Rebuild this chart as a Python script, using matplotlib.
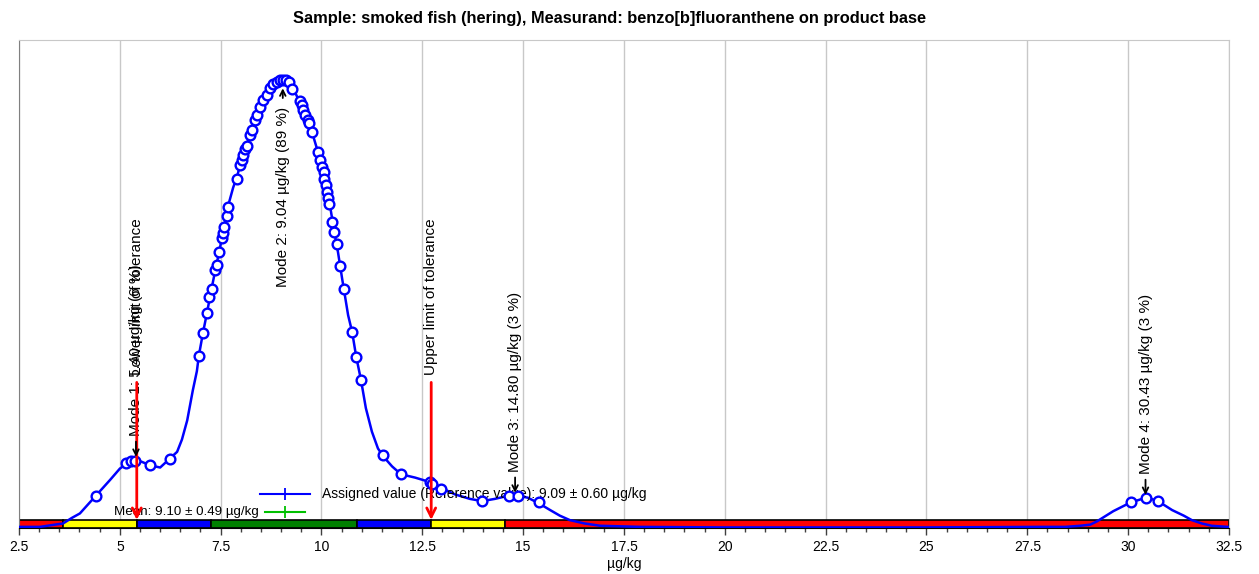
import matplotlib
matplotlib.use('Agg')
import matplotlib.pyplot as plt
from matplotlib.patches import Rectangle
from matplotlib.ticker import MultipleLocator, FormatStrFormatter
import numpy as np

plt.rcParams['font.family'] = ['Liberation Sans', 'DejaVu Sans']

# kernel density of the reported results (µg/kg vs. density)
kde_x = [2.50, 3.02, 3.39, 3.59, 3.81, 4.01, 4.21, 4.41, 4.61, 4.76, 5.00, 5.15,
         5.28, 5.38, 5.55, 5.75, 6.00, 6.24, 6.42, 6.54, 6.67, 6.81, 6.91, 6.96,
         7.06, 7.16, 7.26, 7.36, 7.46, 7.58, 7.68, 7.81, 7.91, 8.00, 8.10, 8.23,
         8.35, 8.48, 8.60, 8.72, 8.85, 8.97, 9.10, 9.22, 9.37, 9.49, 9.59, 9.72,
         9.81, 9.91, 10.01, 10.11, 10.21, 10.31, 10.41, 10.51, 10.66, 10.76, 10.86,
         10.98, 11.10, 11.25, 11.40, 11.53, 11.75, 11.97, 12.32, 12.69, 12.96, 13.31,
         13.68, 13.98, 14.30, 14.65, 14.87, 15.12, 15.39, 15.67, 15.91, 16.16, 16.53,
         16.91, 17.90, 20.00, 25.00, 27.82, 28.44, 28.81, 29.06, 29.23, 29.63, 30.07,
         30.26, 30.43, 30.57, 30.74, 31.09, 31.38, 31.58, 31.83, 32.07, 32.47]
kde_y = [0.001, 0.001, 0.003, 0.004, 0.009, 0.013, 0.021, 0.029, 0.037, 0.043, 0.053, 0.057,
         0.060, 0.061, 0.059, 0.056, 0.054, 0.062, 0.068, 0.079, 0.096, 0.123, 0.140, 0.154,
         0.174, 0.192, 0.211, 0.229, 0.246, 0.268, 0.287, 0.304, 0.314, 0.327, 0.338, 0.351,
         0.364, 0.376, 0.385, 0.393, 0.397, 0.400, 0.400, 0.396, 0.387, 0.378, 0.369, 0.360,
         0.348, 0.336, 0.321, 0.306, 0.288, 0.266, 0.246, 0.223, 0.190, 0.175, 0.153,
         0.132, 0.107, 0.086, 0.071, 0.064, 0.055, 0.048, 0.045, 0.041, 0.036, 0.030,
         0.026, 0.024, 0.026, 0.029, 0.029, 0.027, 0.022, 0.016, 0.011, 0.007, 0.004,
         0.002, 0.001, 0.0005, 0.0005, 0.001, 0.001, 0.002, 0.003, 0.006, 0.015, 0.023,
         0.025, 0.027, 0.026, 0.024, 0.016, 0.011, 0.007, 0.004, 0.002, 0.001]

# single results, drawn on the density curve
res_x = [4.41, 5.15, 5.27, 5.38, 5.75, 6.24,
         6.96, 7.07, 7.15, 7.22, 7.28, 7.36, 7.41, 7.47, 7.53, 7.57, 7.59, 7.65, 7.69,
         7.90, 7.98, 8.02, 8.06, 8.10, 8.15, 8.23, 8.27, 8.35, 8.39, 8.48, 8.55, 8.64,
         8.72, 8.80, 8.89, 8.97, 9.05, 9.12, 9.19,
         9.26, 9.47, 9.51, 9.55, 9.59, 9.67, 9.70, 9.76, 9.92, 9.96, 10.01, 10.05, 10.07,
         10.11, 10.14, 10.17, 10.19, 10.25, 10.32, 10.38, 10.46, 10.56, 10.75, 10.86, 10.97,
         11.53, 11.96, 12.69, 12.73, 12.96, 13.99, 14.66, 14.88, 15.39,
         30.07, 30.43, 30.74]
res_y = [0.029, 0.058, 0.060, 0.060, 0.056, 0.062,
         0.154, 0.174, 0.192, 0.206, 0.213, 0.230, 0.235, 0.246, 0.259, 0.263, 0.269, 0.279, 0.287,
         0.312, 0.324, 0.329, 0.333, 0.338, 0.341, 0.351, 0.355, 0.364, 0.369, 0.376, 0.382, 0.387,
         0.393, 0.396, 0.398, 0.400, 0.400, 0.400, 0.398,
         0.392, 0.381, 0.378, 0.373, 0.369, 0.364, 0.362, 0.354, 0.336, 0.329, 0.322, 0.318, 0.312,
         0.306, 0.300, 0.295, 0.289, 0.273, 0.264, 0.254, 0.234, 0.213, 0.175, 0.153, 0.132,
         0.065, 0.048, 0.041, 0.039, 0.035, 0.024, 0.029, 0.029, 0.023,
         0.023, 0.027, 0.024]

# modes of the density
mode_x = [5.40, 9.04, 14.80, 30.43]
mode_y = [0.061, 0.400, 0.029, 0.027]
mode_pct = [6, 89, 3, 3]

# evaluation zones along the axis
zone_edges = [2.5, 3.60, 5.42, 7.25, 10.89, 12.72, 14.54, 32.5]
zone_colors = ['#ff0000', '#ffff00', '#0000ff', '#008000', '#0000ff', '#ffff00', '#ff0000']
tol_lower = 5.42
tol_upper = 12.72

assigned_val, assigned_unc = 9.09, 0.60
mean_val, mean_unc = 9.10, 0.49

fig = plt.figure(figsize=(12.59, 5.74), dpi=100)
ax = fig.add_axes([0.01509, 0.08014, 0.96108, 0.85017])

ax.set_xlim(2.5, 32.5)
ax.set_ylim(0, 0.4357)

ax.xaxis.set_major_locator(MultipleLocator(2.5))
ax.xaxis.set_minor_locator(MultipleLocator(0.5))
ax.xaxis.set_major_formatter(FormatStrFormatter('%g'))
ax.set_yticks([])
ax.tick_params(axis='x', which='major', length=5, width=1, color='#404040', labelsize=10, pad=4)
ax.tick_params(axis='x', which='minor', length=3, width=1, color='#404040')
ax.grid(axis='x', which='major', color='#c8c8c8', lw=1)
ax.set_axisbelow(True)

ax.spines['left'].set_color('#808080')
ax.spines['top'].set_color('#c8c8c8')
ax.spines['right'].set_color('#c8c8c8')
ax.spines['bottom'].set_color('black')

# zone band
for x0, x1, c in zip(zone_edges[:-1], zone_edges[1:], zone_colors):
    ax.add_patch(Rectangle((x0, 0), x1 - x0, 0.0072, facecolor=c, edgecolor='black',
                           lw=1.2, zorder=2))

ax.plot(kde_x, kde_y, color='#0000ff', lw=1.8, zorder=3)
ax.plot(res_x, res_y, ls='none', marker='o', ms=7, mfc='white', mec='#0000ff', mew=1.7, zorder=4)

# tolerance limits
for tx, label in [(tol_lower, 'Lower limit of tolerance'), (tol_upper, 'Upper limit of tolerance')]:
    ax.annotate('', xy=(tx, 0.0072), xytext=(tx, 0.130),
                arrowprops=dict(arrowstyle='->', color='red', lw=2, mutation_scale=16,
                                shrinkA=0, shrinkB=0), zorder=5)
    ax.text(tx, 0.137, label, rotation=90, ha='center', va='bottom', fontsize=11)

# mode markers
for i, (mx, my, pct) in enumerate(zip(mode_x, mode_y, mode_pct)):
    label = f'Mode {i + 1}: {mx:.2f} µg/kg ({pct} %)'
    if my > 0.3:
        ax.annotate('', xy=(mx, my), xytext=(0, -13), textcoords='offset points',
                    arrowprops=dict(arrowstyle='->', color='black', lw=1.3,
                                    shrinkA=0, shrinkB=6), zorder=6)
        ax.annotate(label, xy=(mx, my), xytext=(0, -19), textcoords='offset points',
                    rotation=90, ha='center', va='top', fontsize=11)
    else:
        ax.annotate('', xy=(mx, my), xytext=(0, 13), textcoords='offset points',
                    arrowprops=dict(arrowstyle='->', color='black', lw=1.3,
                                    shrinkA=0, shrinkB=2), zorder=6)
        ax.annotate(label, xy=(mx, my), xytext=(0, 17), textcoords='offset points',
                    rotation=90, ha='center', va='bottom', fontsize=11)

# assigned value / mean keys
ax.plot([0.1992, 0.2405], [0.0697, 0.0697], color='#0000ff', lw=1.5, transform=ax.transAxes)
ax.plot([0.2198], [0.0697], marker='|', ms=8, mew=1.3, color='#0000ff', transform=ax.transAxes)
ax.text(0.2504, 0.0697,
        f'Assigned value (Reference value): {assigned_val:.2f} ± {assigned_unc:.2f} µg/kg',
        transform=ax.transAxes, ha='left', va='center', fontsize=10)
ax.plot([0.2033, 0.2364], [0.0328, 0.0328], color='#00c000', lw=1.5, transform=ax.transAxes)
ax.plot([0.2198], [0.0328], marker='|', ms=8, mew=1.3, color='#00c000', transform=ax.transAxes)
ax.text(0.1983, 0.0328, f'Mean: {mean_val:.2f} ± {mean_unc:.2f} µg/kg',
        transform=ax.transAxes, ha='right', va='center', fontsize=9.6)

ax.set_xlabel('µg/kg', fontsize=10, labelpad=2)
fig.text(0.4845, 0.967, 'Sample: smoked fish (hering), Measurand: benzo[b]fluoranthene on product base',
         ha='center', va='center', fontsize=11.8, fontweight='bold')

fig.savefig('out.png', dpi=100)
